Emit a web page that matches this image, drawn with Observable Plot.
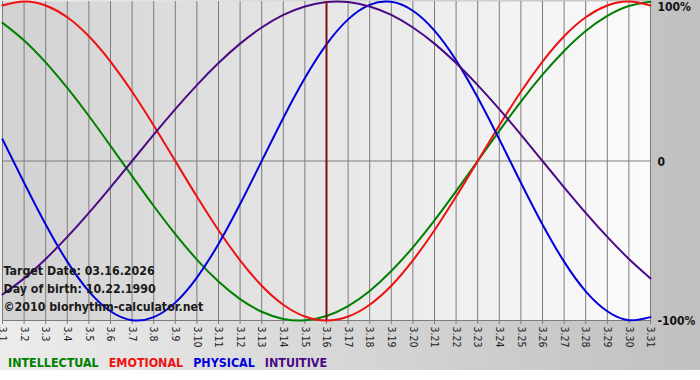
<!DOCTYPE html>
<html>
<head>
<meta charset="utf-8">
<script src="https://cdn.jsdelivr.net/npm/d3@7"></script>
<script src="https://cdn.jsdelivr.net/npm/@observablehq/plot@0.6"></script>
<style>
  body { margin: 0; background: #ffffff; }
  #wrap { position: relative; width: 700px; height: 370px; overflow: hidden;
          background: linear-gradient(to right, #ececec, #c0c0c0);
          font-family: "DejaVu Sans Condensed", "DejaVu Sans", sans-serif; }
  #legend { position: absolute; left: 8px; top: 355px; font-size: 12.4px; font-weight: bold; white-space: nowrap; }
  #legend span { margin-right: 10px; }
</style>
</head>
<body>
<div id="wrap"><div id="chart"></div><div id="legend"></div></div>
<script>
// Days of March 2026
const days = [1,2,3,4,5,6,7,8,9,10,11,12,13,14,15,16,17,18,19,20,21,22,23,24,25,26,27,28,29,30,31];
const dateLabels = ["3.1","3.2","3.3","3.4","3.5","3.6","3.7","3.8","3.9","3.10","3.11","3.12","3.13","3.14","3.15","3.16","3.17","3.18","3.19","3.20","3.21","3.22","3.23","3.24","3.25","3.26","3.27","3.28","3.29","3.30","3.31"];
const targetDay = 16;

// Series values in percent
const intellectual = [86.6,75.6,61.8,45.8,28.2,9.5,-9.5,-28.2,-45.8,-61.8,-75.6,-86.6,-94.5,-99.0,-99.9,-97.2,-91.0,-81.5,-69.0,-54.1,-37.2,-18.9,0,18.9,37.2,54.1,69.0,81.5,91.0,97.2,99.9];
const emotional = [97.5,100,97.5,90.1,78.2,62.3,43.4,22.3,0,-22.3,-43.4,-62.3,-78.2,-90.1,-97.5,-100,-97.5,-90.1,-78.2,-62.3,-43.4,-22.3,0,22.3,43.4,62.3,78.2,90.1,97.5,100,97.5];
const physical = [13.6,-13.6,-39.8,-63.1,-81.7,-94.2,-99.8,-97.9,-88.8,-73.1,-52.0,-27.0,0,27.0,52.0,73.1,88.8,97.9,99.8,94.2,81.7,63.1,39.8,13.6,-13.6,-39.8,-63.1,-81.7,-94.2,-99.8,-97.9];
const intuitive = [-83.7,-73.6,-61.4,-47.6,-32.5,-16.5,0,16.5,32.5,47.6,61.4,73.6,83.7,91.6,96.9,99.7,99.7,96.9,91.6,83.7,73.6,61.4,47.6,32.5,16.5,0,-16.5,-32.5,-47.6,-61.4,-73.6];

const yTicksTop = [100];
const yTicksRest = [0, -100];
const yTicks = [100, 0, -100];
const yTickLabels = ["100%", "0", "-100%"];
const seriesNames = ["INTELLECTUAL", "EMOTIONAL", "PHYSICAL", "INTUITIVE"];
const seriesColors = ["#008000", "#ee1111", "#0000dd", "#4b0a86"];
const annotation = ["Target Date: 03.16.2026", "Day of birth: 10.22.1990", "\u00a92010 biorhythm-calculator.net"];

const seriesValues = [intellectual, emotional, physical, intuitive];
const rows = seriesValues.flatMap((vals, s) => days.map((d, i) => ({day: d, value: vals[i], series: seriesNames[s]})));

const gradientDefs = () => {
  const ns = "http://www.w3.org/2000/svg";
  const defs = document.createElementNS(ns, "defs");
  defs.innerHTML = '<linearGradient id="pbg" x1="0" x2="1" y1="0" y2="0">' +
    '<stop offset="0" stop-color="#d2d2d2"/><stop offset="1" stop-color="#fbfbfb"/></linearGradient>';
  return defs;
};

const yAxisStyle = {
  anchor: "right",
  tickFormat: d => yTickLabels[yTicks.indexOf(d)],
  tickSize: 0,
  tickPadding: 7,
  fill: "#111",
  fontSize: 12,
  fontWeight: "bold",
  label: null
};

const chart = Plot.plot({
  width: 700,
  height: 345,
  marginLeft: 2,
  marginRight: 50,
  marginTop: 1,
  marginBottom: 25,
  style: { background: "transparent", fontFamily: '"DejaVu Sans Condensed", "DejaVu Sans", sans-serif', overflow: "visible" },
  x: { domain: [days[0], days[days.length - 1]] },
  y: { domain: [-100, 100] },
  color: { domain: seriesNames, range: seriesColors },
  marks: [
    gradientDefs,
    Plot.frame({ fill: "url(#pbg)", stroke: null }),
    Plot.ruleX(days, { stroke: "#7c7c7c", strokeWidth: 1 }),
    Plot.ruleY([0, -100], { stroke: "#7c7c7c", strokeWidth: 1 }),
    Plot.axisX({
      ticks: days,
      tickFormat: d => dateLabels[days.indexOf(d)],
      tickRotate: 90,
      tickSize: 4,
      tickPadding: 2,
      stroke: "#7c7c7c",
      fill: "#222",
      fontSize: 10.5,
      label: null
    }),
    Plot.axisY({ ...yAxisStyle, ticks: yTicksTop, dy: 6 }),
    Plot.axisY({ ...yAxisStyle, ticks: yTicksRest, dy: 1 }),
    Plot.line(rows, { x: "day", y: "value", z: "series", stroke: "series", strokeWidth: 2, curve: "natural" }),
    Plot.ruleX([targetDay], { stroke: "#7a1010", strokeWidth: 2 }),
    Plot.text([annotation.join("\n")], {
      frameAnchor: "bottom-left",
      lineAnchor: "bottom",
      textAnchor: "start",
      dx: 1,
      dy: -10,
      lineHeight: 1.45,
      fontSize: 12.3,
      fontWeight: "bold",
      fill: "#1a1a1a"
    })
  ]
});
document.getElementById("chart").appendChild(chart);

const legend = document.getElementById("legend");
seriesNames.forEach((name, i) => {
  const s = document.createElement("span");
  s.textContent = name;
  s.style.color = seriesColors[i];
  legend.appendChild(s);
});
</script>
</body>
</html>
